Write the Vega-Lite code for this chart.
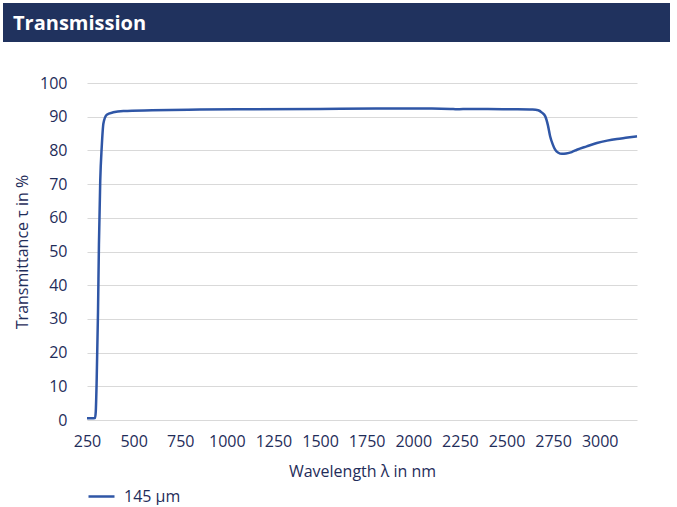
{
  "$schema": "https://vega.github.io/schema/vega-lite/v6.json",
  "background": "white",
  "padding": {"left": 3, "top": 3, "right": 0, "bottom": 0},
  "config": {
    "view": {"stroke": null},
    "font": "Open Sans",
    "concat": {"spacing": 33}
  },
  "datasets": {
    "spectrum": [
      {"wavelength": 250, "transmittance": 0.5},
      {"wavelength": 275, "transmittance": 0.5},
      {"wavelength": 293, "transmittance": 0.6},
      {"wavelength": 297, "transmittance": 2.5},
      {"wavelength": 302, "transmittance": 12},
      {"wavelength": 309, "transmittance": 32},
      {"wavelength": 314, "transmittance": 52},
      {"wavelength": 321, "transmittance": 71},
      {"wavelength": 329, "transmittance": 81},
      {"wavelength": 338, "transmittance": 88},
      {"wavelength": 356, "transmittance": 90.6},
      {"wavelength": 391, "transmittance": 91.3},
      {"wavelength": 445, "transmittance": 91.7},
      {"wavelength": 600, "transmittance": 91.9},
      {"wavelength": 856, "transmittance": 92.1},
      {"wavelength": 1100, "transmittance": 92.2},
      {"wavelength": 1500, "transmittance": 92.3},
      {"wavelength": 1800, "transmittance": 92.4},
      {"wavelength": 2100, "transmittance": 92.4},
      {"wavelength": 2200, "transmittance": 92.3},
      {"wavelength": 2234, "transmittance": 92.2},
      {"wavelength": 2300, "transmittance": 92.3},
      {"wavelength": 2400, "transmittance": 92.3},
      {"wavelength": 2520, "transmittance": 92.2},
      {"wavelength": 2640, "transmittance": 92.1},
      {"wavelength": 2670, "transmittance": 91.9},
      {"wavelength": 2690, "transmittance": 91.2},
      {"wavelength": 2708, "transmittance": 90.1},
      {"wavelength": 2722, "transmittance": 87.5},
      {"wavelength": 2734, "transmittance": 84.2},
      {"wavelength": 2748, "transmittance": 81.8},
      {"wavelength": 2761, "transmittance": 80.2},
      {"wavelength": 2778, "transmittance": 79.3},
      {"wavelength": 2797, "transmittance": 79.0},
      {"wavelength": 2820, "transmittance": 79.1},
      {"wavelength": 2850, "transmittance": 79.5},
      {"wavelength": 2878, "transmittance": 80.2},
      {"wavelength": 2930, "transmittance": 81.2},
      {"wavelength": 2985, "transmittance": 82.2},
      {"wavelength": 3040, "transmittance": 82.9},
      {"wavelength": 3092, "transmittance": 83.4},
      {"wavelength": 3150, "transmittance": 83.8},
      {"wavelength": 3200, "transmittance": 84.2}
    ],
    "banner": [{"label": "Transmission"}]
  },
  "vconcat": [
    {
      "width": 583,
      "height": 39,
      "data": {"name": "banner"},
      "encoding": {
        "x": {"datum": 0, "type": "quantitative", "scale": {"domain": [0, 1], "range": [-84, 583]}, "axis": null}
      },
      "layer": [
        {
          "mark": {"type": "rect", "color": "#20325e", "clip": false},
          "encoding": {"x2": {"datum": 1}}
        },
        {
          "mark": {"type": "text", "align": "left", "baseline": "middle", "dy": 1, "color": "white", "fontSize": 20, "fontWeight": "bold", "font": "Open Sans", "clip": false},
          "encoding": {
            "x": {"datum": 0.015, "type": "quantitative"},
            "text": {"field": "label"}
          }
        }
      ]
    },
    {
      "width": 550,
      "height": 337,
      "data": {"name": "spectrum"},
      "transform": [{"calculate": "'145 µm'", "as": "sample"}],
      "mark": {"type": "line", "interpolate": "monotone", "strokeWidth": 2.5},
      "encoding": {
        "x": {
          "field": "wavelength",
          "type": "quantitative",
          "scale": {"domain": [250, 3200], "nice": false, "zero": false},
          "axis": {
            "title": "Wavelength λ in nm",
            "values": [250, 500, 750, 1000, 1250, 1500, 1750, 2000, 2250, 2500, 2750, 3000],
            "format": "d",
            "grid": false,
            "ticks": false,
            "tickSize": 0,
            "domain": false,
            "labelFlush": false,
            "labelOverlap": false,
            "labelPadding": 13,
            "labelFontSize": 16,
            "labelColor": "#1f2d5a",
            "titleFontSize": 16,
            "titleFontWeight": "normal",
            "titleColor": "#1f2d5a",
            "titlePadding": 14
          }
        },
        "y": {
          "field": "transmittance",
          "type": "quantitative",
          "scale": {"domain": [0, 100], "nice": false},
          "axis": {
            "title": "Transmittance τ in %",
            "values": [0, 10, 20, 30, 40, 50, 60, 70, 80, 90, 100],
            "grid": true,
            "gridColor": "#d9d9d9",
            "gridWidth": 1,
            "ticks": false,
            "tickSize": 0,
            "domain": false,
            "labelPadding": 20,
            "labelFontSize": 16,
            "labelColor": "#1f2d5a",
            "titleFontSize": 16,
            "titleFontWeight": "normal",
            "titleColor": "#1f2d5a",
            "titlePadding": 9
          }
        },
        "color": {
          "field": "sample",
          "type": "nominal",
          "scale": {"range": ["#2f56a6"]},
          "legend": {
            "title": null,
            "orient": "bottom",
            "direction": "horizontal",
            "symbolType": "stroke",
            "symbolStrokeWidth": 2.5,
            "symbolSize": 676,
            "labelFontSize": 16,
            "labelColor": "#1f2d5a",
            "labelOffset": 8,
            "offset": 3,
            "padding": 0
          }
        }
      }
    }
  ]
}
